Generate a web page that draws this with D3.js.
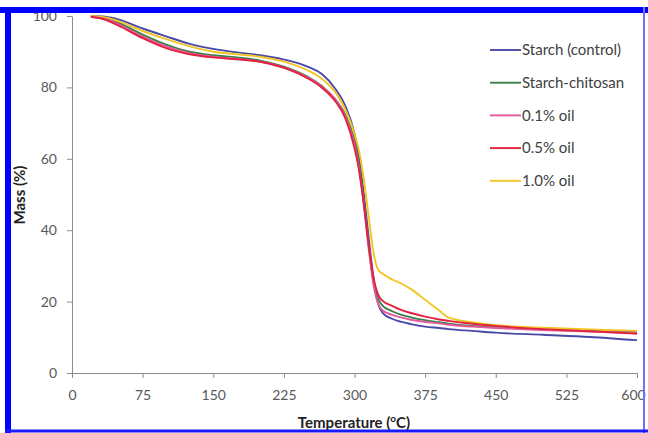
<!DOCTYPE html>
<html lang="en">
<head>
  <meta charset="UTF-8" />
  <title>TGA curves</title>
  <script src="https://d3js.org/d3.v7.min.js"></script>
  <style>
    body { margin: 0; background: #fff; }
    .axis path, .axis line { stroke: #8c8c8c; }
    .axis text { fill: #595959; font-family: Lato, "Open Sans", sans-serif; font-size: 14px; }
  </style>
</head>
<body>
  <div id="chart"></div>
  <script>
    // temperatures (ºC) shared by every curve
    const temps = [20, 35, 50, 75, 100, 125, 150, 175, 200, 225, 250, 265, 280, 290, 300, 305,
                   310, 315, 320, 325, 330, 340, 350, 360, 375, 390, 400, 425, 450, 500, 550, 600];

    const starchControl = [100, 99.8, 99, 96.5, 94.3, 92.2, 90.8, 89.8, 89, 87.8, 85.8, 83.8, 79.5, 75, 67, 60,
                           50, 38, 27, 19.5, 16.8, 15.2, 14.3, 13.7, 13, 12.6, 12.3, 11.8, 11.3, 10.7, 10.1, 9.2];
    const starchChitosan = [100, 99.4, 98, 94.8, 92, 90, 89, 88.4, 87.5, 85.8, 83, 80.5, 76.5, 72.5, 65, 58,
                            48, 36, 26, 21, 18.8, 17.3, 16.3, 15.6, 14.8, 14.2, 13.8, 13.2, 12.8, 12.2, 11.8, 11.4];
    const oil01 = [99.8, 99.2, 97.6, 94.2, 91.5, 89.6, 88.6, 88, 87.2, 85.6, 82.8, 80.3, 76.5, 72, 64, 57,
                   47, 35, 25, 19.5, 17.5, 16.3, 15.5, 14.9, 14.3, 13.9, 13.5, 13, 12.6, 12, 11.6, 11.2];
    const oil05 = [99.8, 99, 97.2, 93.8, 91, 89.3, 88.4, 87.9, 87.2, 85.5, 82.6, 80, 76, 71.5, 63, 56.5,
                   47, 36, 27, 22, 20.2, 18.8, 17.6, 16.8, 15.8, 15, 14.6, 13.8, 13.2, 12.3, 11.7, 11.0];
    const oil10 = [100, 99.6, 98.5, 95.8, 93.5, 91.5, 90, 89.3, 88.6, 87.2, 84.8, 82.5, 78.5, 74, 67, 62,
                   54, 44, 34, 29, 27.8, 26.2, 25, 23.5, 20.5, 17.5, 15.5, 14.2, 13.4, 12.7, 12.2, 11.8];

    const seriesNames = ["Starch (control)", "Starch-chitosan", "0.1% oil", "0.5% oil", "1.0% oil"];
    const seriesValues = [starchControl, starchChitosan, oil01, oil05, oil10];
    const seriesColors = ["#4a4aa6", "#3a8048", "#e4589e", "#e2223f", "#f2c522"];
    const drawOrder = [0, 1, 4, 2, 3];

    const xTicks = [0, 75, 150, 225, 300, 375, 450, 525, 600];
    const yTicks = [0, 20, 40, 60, 80, 100];

    const width = 648, height = 433;
    const svg = d3.select("#chart").append("svg")
      .attr("width", width)
      .attr("height", height)
      .style("display", "block");

    svg.append("rect").attr("width", width).attr("height", height).attr("fill", "#fff");

    const x = d3.scaleLinear().domain([0, 600]).range([72, 637]);
    const y = d3.scaleLinear().domain([0, 100]).range([373, 16]);

    // axes
    const xAxis = svg.append("g")
      .attr("class", "axis")
      .attr("transform", "translate(0,373)")
      .call(d3.axisBottom(x).tickValues(xTicks).tickSize(5).tickPadding(12).tickSizeOuter(0));
    // last label sits against the frame, nudge it in a bit
    xAxis.selectAll(".tick text").filter(d => d === 600).attr("dx", "-4");

    svg.append("g")
      .attr("class", "axis")
      .attr("transform", "translate(72,0)")
      .call(d3.axisLeft(y).tickValues(yTicks).tickSize(5).tickPadding(10).tickSizeOuter(0));

    // curves
    const line = d3.line()
      .x((d, i) => x(temps[i]))
      .y(d => y(d))
      .curve(d3.curveMonotoneX);

    drawOrder.forEach(k => {
      svg.append("path")
        .datum(seriesValues[k])
        .attr("fill", "none")
        .attr("stroke", seriesColors[k])
        .attr("stroke-width", 1.9)
        .attr("d", line);
    });

    // legend
    const legend = svg.append("g").attr("transform", "translate(490,50)");
    seriesNames.forEach((name, i) => {
      const row = legend.append("g").attr("transform", `translate(0,${i * 32.7})`);
      row.append("line")
        .attr("x1", 0).attr("x2", 31)
        .attr("stroke", seriesColors[i])
        .attr("stroke-width", 1.9);
      row.append("text")
        .attr("x", 32)
        .attr("dy", "0.35em")
        .attr("fill", "#404040")
        .style("font-family", "Lato, 'Open Sans', sans-serif")
        .style("font-size", "15px")
        .text(name);
    });

    // axis titles
    svg.append("text")
      .attr("transform", "translate(25,195) rotate(-90)")
      .attr("text-anchor", "middle")
      .attr("fill", "#222")
      .style("font-family", "Lato, 'Open Sans', sans-serif")
      .style("font-size", "15px")
      .style("font-weight", "bold")
      .text("Mass (%)");

    const xTitle = svg.append("text")
      .attr("x", 354)
      .attr("y", 428)
      .attr("text-anchor", "middle")
      .attr("fill", "#222")
      .style("font-family", "Lato, 'Open Sans', sans-serif")
      .style("font-size", "15px")
      .style("font-weight", "bold");
    xTitle.append("tspan").text("Temperature (");
    xTitle.append("tspan").attr("dy", -6).style("font-size", "10px").text("o");
    xTitle.append("tspan").attr("dy", 6).text("C)");

    // frame
    svg.append("line").attr("x1", 0).attr("x2", width).attr("y1", 10).attr("y2", 10)
      .attr("stroke", "#0000ff").attr("stroke-width", 6);
    svg.append("line").attr("x1", 8).attr("x2", 8).attr("y1", 7).attr("y2", height)
      .attr("stroke", "#0000ff").attr("stroke-width", 6);
    svg.append("line").attr("x1", 644).attr("x2", 644).attr("y1", 7).attr("y2", height)
      .attr("stroke", "#7070ff").attr("stroke-width", 2);
    svg.append("line").attr("x1", 5).attr("x2", width).attr("y1", 431).attr("y2", 431)
      .attr("stroke", "#1a1aff").attr("stroke-width", 3);
  </script>
</body>
</html>
